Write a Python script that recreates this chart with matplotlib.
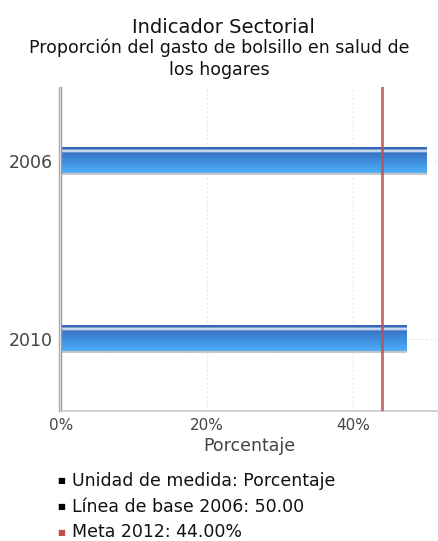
import numpy as np
import matplotlib
matplotlib.use("Agg")
import matplotlib.pyplot as plt
from matplotlib.colors import LinearSegmentedColormap

categories = ["2006", "2010"]
values = [50.0, 47.3]
meta = 44.0
xticks = [0, 20, 40]
xticklabels = ["0%", "20%", "40%"]
legend_items = ["Unidad de medida: Porcentaje", "Línea de base 2006: 50.00", "Meta 2012: 44.00%"]
legend_colors = ["#000000", "#000000", "#c0504d"]

W, H = 439, 541
fig = plt.figure(figsize=(W / 100, H / 100), dpi=100)
ax = fig.add_axes([61 / W, (H - 411) / H, (438 - 61) / W, (411 - 87) / H])

ypos = np.arange(len(categories))
bh = 0.157
cmap = LinearSegmentedColormap.from_list(
    "bar",
    [(0.0, "#3566b8"), (0.07, "#3566b8"), (0.1, "#d8e2f0"), (0.16, "#c9d7ec"),
     (0.2, "#3a74c6"), (0.5, "#3f8ddd"), (0.85, "#4aa9f6"), (0.92, "#4aa9f6"),
     (0.94, "#c8c8c8"), (1.0, "#c8c8c8")])
grad = np.linspace(0, 1, 64).reshape(-1, 1)
for y, v in zip(ypos, values):
    ax.imshow(grad, cmap=cmap, aspect="auto", interpolation="bilinear",
              extent=(0, v, y + bh / 2, y - bh / 2), zorder=2)

ax.axvline(meta, color="#c0504d", lw=2, alpha=0.85, zorder=3)

ax.set_xlim(0, 51.6)
ax.set_ylim(1.405, -0.416)
ax.set_yticks(ypos)
ax.set_yticklabels(categories, fontsize=12.5, color="#444444")
ax.set_xticks(xticks)
ax.set_xticklabels(xticklabels, fontsize=11, color="#444444")
ax.tick_params(axis="y", length=0, pad=6)
ax.tick_params(axis="x", length=0, pad=5)
ax.set_xlabel("Porcentaje", fontsize=12.5, color="#444444", labelpad=3)
ax.grid(True, color="#e6e6e6", linestyle=(0, (2, 2)), lw=0.8, zorder=0)
ax.set_axisbelow(True)
for s in ["top", "right"]:
    ax.spines[s].set_visible(False)
ax.spines["left"].set_color("#999999")
ax.spines["left"].set_linewidth(1.0)
ax.spines["bottom"].set_color("#c8c8c8")
ax.spines["bottom"].set_linewidth(1.2)
fig.add_artist(plt.Line2D([59 / W, 59 / W], [(H - 411) / H, (H - 87) / H], color="#aaaaaa", lw=1.0))

fig.text(223 / W, 1 - 33 / H, "Indicador Sectorial", ha="center", va="baseline", fontsize=14, color="#111111")
fig.text(0.5, 1 - 48 / H, "Proporción del gasto de bolsillo en salud de", ha="center", va="center", fontsize=12.5, color="#111111")
fig.text(0.5, 1 - 70 / H, "los hogares", ha="center", va="center", fontsize=12.5, color="#111111")

for i, (t, c) in enumerate(zip(legend_items, legend_colors)):
    yy = 1 - (481 + 25.5 * i) / H
    fig.text(57 / W, yy, "■", ha="left", va="center", fontsize=6, color=c)
    fig.text(72 / W, yy, t, ha="left", va="center", fontsize=12.5, color="#111111")

fig.savefig("out.png", dpi=100)
